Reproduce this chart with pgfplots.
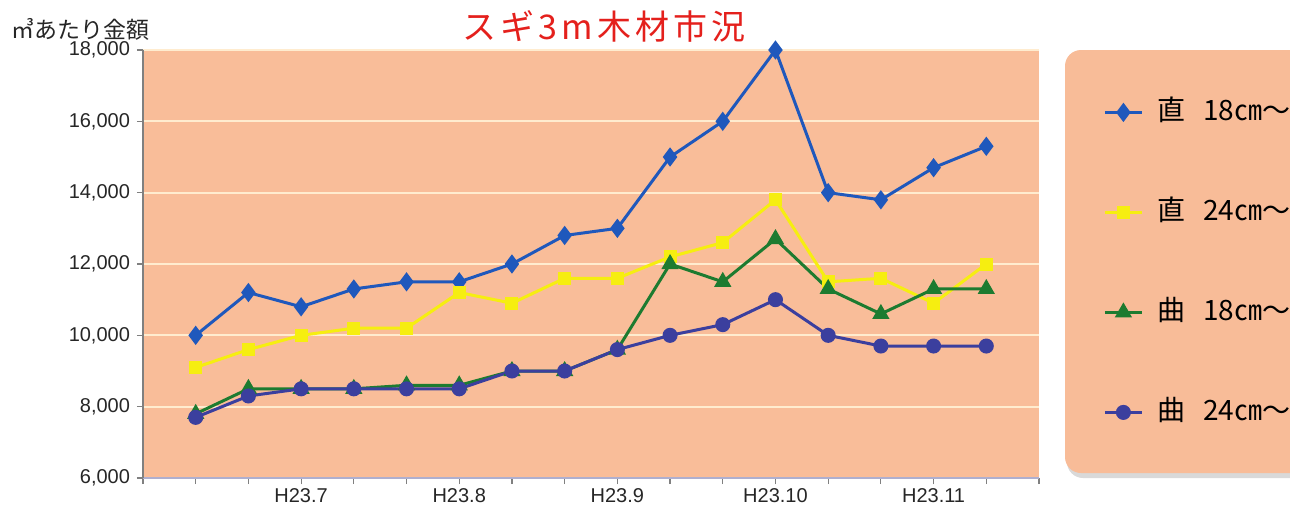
\documentclass[border=0pt]{standalone}
\usepackage{fontspec}
\setmainfont{Liberation Sans}
\newfontfamily\cjk{Noto Sans CJK JP}
\newfontfamily\cjktitle[LetterSpace=12]{Noto Sans CJK JP}
\usepackage{pgfplots}
\pgfplotsset{compat=1.18}
\definecolor{bgorange}{HTML}{F9BD99}
\definecolor{gridc}{HTML}{FFECCF}
\definecolor{cblue}{HTML}{1F58BC}
\definecolor{cyellow}{HTML}{F6EE10}
\definecolor{cgreen}{HTML}{1D7B30}
\definecolor{cpurple}{HTML}{3B3F9E}
\definecolor{legbg}{HTML}{F8BC98}
\definecolor{titlered}{HTML}{E4201C}
\newcommand{\legtxt}[2]{\hspace{7pt}#1\hspace{9pt}#2}
\begin{document}
\begin{tikzpicture}
\fill[gray!30, rounded corners=8pt] (462pt,0pt) rectangle (600pt,212pt);
\fill[legbg, rounded corners=8pt] (461pt,2.5pt) rectangle (600pt,214pt);
\begin{axis}[
  at={(0,0)}, anchor=south west, name=ax,
  scale only axis, width=448pt, height=214pt,
  xmin=-1, xmax=16, ymin=6000, ymax=18000,
  axis x line*=bottom, axis y line*=left,
  axis background/.style={fill=bgorange},
  x axis line style={draw=blue!25!gray!50, line width=0.6pt},
  y axis line style={draw=gray, line width=0.6pt},
  xtick={2,5,8,11,14},
  xticklabels={H23.7,H23.8,H23.9,H23.10,H23.11},
  minor xtick={-1,...,16},
  ytick={6000,8000,...,18000},
  scaled y ticks=false,
  yticklabel style={/pgf/number format/.cd, fixed, precision=0, 1000 sep={,}, assume math mode=true},
  tick align=outside,
  major tick length=3pt, minor tick length=3pt,
  tick style={gray, line width=0.6pt},
  ymajorgrids,
  major grid style={gridc, line width=1pt},
  ticklabel style={font=\fontsize{10pt}{10pt}\selectfont, text=black!85},
  xticklabel style={inner sep=0pt, text height=7pt, text depth=0pt, yshift=-2pt},
  clip=false,
  title={スギ3m木材市況},
  title style={font=\cjktitle\fontsize{17pt}{17pt}\selectfont, text=titlered, at={(0.5,1)}, anchor=center, xshift=6.5pt, yshift=6pt},
  legend style={draw=none, fill=none, at={(1,1)}, anchor=north west, xshift=32pt, yshift=-25pt,
    inner sep=0pt, row sep=38pt, font=\cjk\fontsize{14pt}{14pt}\selectfont,
    nodes={inner sep=0pt, text height=10pt, text depth=2pt}},
  legend cell align=left,
  legend image code/.code={\draw[mark repeat=2,mark phase=2,#1] plot coordinates {(0pt,0pt)(9.25pt,0pt)(18.5pt,0pt)};},
]
\addplot[cblue, line width=1.5pt, mark=diamond*, mark size=3.6pt] coordinates {
(0,10000)(1,11200)(2,10800)(3,11300)(4,11500)(5,11500)(6,12000)(7,12800)
(8,13000)(9,15000)(10,16000)(11,18000)(12,14000)(13,13800)(14,14700)(15,15300)};
\addlegendentry{\legtxt{直}{18㎝～}}
\addplot[cyellow, line width=1.5pt, mark=square*, mark size=2.5pt] coordinates {
(0,9100)(1,9600)(2,10000)(3,10200)(4,10200)(5,11200)(6,10900)(7,11600)
(8,11600)(9,12200)(10,12600)(11,13800)(12,11500)(13,11600)(14,10900)(15,12000)};
\addlegendentry{\legtxt{直}{24㎝～}}
\addplot[cgreen, line width=1.5pt, mark=triangle*, mark size=3.5pt] coordinates {
(0,7800)(1,8500)(2,8500)(3,8500)(4,8600)(5,8600)(6,9000)(7,9000)
(8,9600)(9,12000)(10,11500)(11,12700)(12,11300)(13,10600)(14,11300)(15,11300)};
\addlegendentry{\legtxt{曲}{18㎝～}}
\addplot[cpurple, line width=1.5pt, mark=*, mark size=3pt] coordinates {
(0,7700)(1,8300)(2,8500)(3,8500)(4,8500)(5,8500)(6,9000)(7,9000)
(8,9600)(9,10000)(10,10300)(11,11000)(12,10000)(13,9700)(14,9700)(15,9700)};
\addlegendentry{\legtxt{曲}{24㎝～}}
\node[font=\cjk\fontsize{11.5pt}{11.5pt}\selectfont, text=black!85] at (rel axis cs:0,1) [xshift=-31pt, yshift=10.5pt] {㎥あたり金額};
\end{axis}
\pgfresetboundingbox
\useasboundingbox (-71.5pt,-13.5pt) rectangle (573.5pt,239pt);
\end{tikzpicture}
\end{document}
